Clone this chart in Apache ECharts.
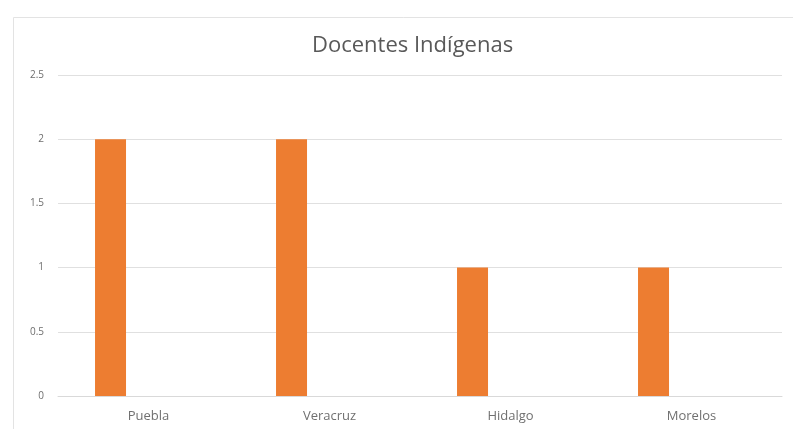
<!DOCTYPE html>
<html>
<head>
<meta charset="utf-8">
<script src="https://cdn.jsdelivr.net/npm/echarts@6/dist/echarts.min.js"></script>
<style>html,body{margin:0;padding:0;background:#fff;}#c{width:793px;height:429px;}</style>
</head>
<body>
<div id="c"></div>
<script>
var titleText = 'Docentes Indígenas';
var categories = ['Puebla', 'Veracruz', 'Hidalgo', 'Morelos'];
var docentes = [2, 2, 1, 1];
var emptySeries = [null, null, null, null];
var yTicks = {min: 0, max: 2.5, interval: 0.5};

var chart = echarts.init(document.getElementById('c'), null, {renderer: 'canvas'});
chart.setOption({
  backgroundColor: '#ffffff',
  animation: false,
  graphic: [{
    type: 'rect', left: 11, top: 15,
    shape: {width: 800, height: 430},
    style: {fill: 'none', stroke: '#e3e3e3', lineWidth: 1},
    silent: true, z: -1
  }],
  title: {
    text: titleText, left: 307, top: 30,
    textStyle: {fontFamily: 'Open Sans', fontSize: 22, fontWeight: 'normal', color: '#595959'}
  },
  grid: {left: 58, right: 11, top: 75, bottom: 33, containLabel: false},
  xAxis: {
    type: 'category', data: categories,
    axisLine: {lineStyle: {color: '#d9d9d9'}},
    axisTick: {show: false},
    axisLabel: {color: '#707070', fontFamily: 'Open Sans', fontSize: 13, margin: 14}
  },
  yAxis: {
    type: 'value', min: yTicks.min, max: yTicks.max, interval: yTicks.interval,
    axisLine: {show: false}, axisTick: {show: false},
    splitLine: {lineStyle: {color: '#e0e0e0'}},
    axisLabel: {color: '#6e6e6e', fontFamily: 'Open Sans', fontSize: 10, margin: 14}
  },
  series: [
    {type: 'bar', data: docentes, barWidth: 31, barGap: '145%', itemStyle: {color: '#ED7D31'}},
    {type: 'bar', data: emptySeries, barWidth: 31, itemStyle: {color: '#5B9BD5'}}
  ]
});
</script>
</body>
</html>
